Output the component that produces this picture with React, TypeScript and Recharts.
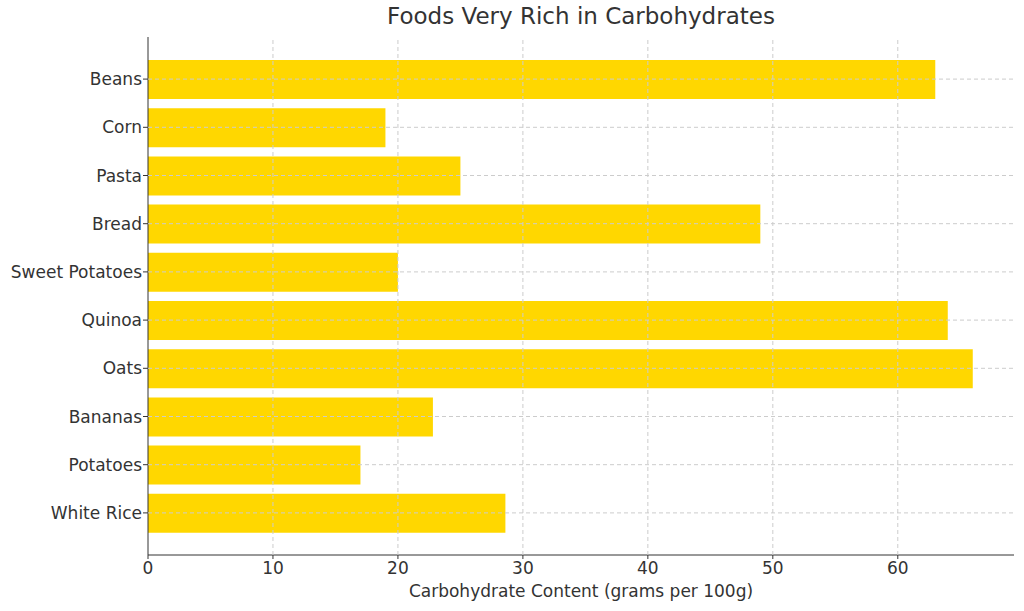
import React from 'react';
import { BarChart, Bar, XAxis, YAxis, ReferenceLine } from 'recharts';

const foods = ['Beans', 'Corn', 'Pasta', 'Bread', 'Sweet Potatoes', 'Quinoa', 'Oats', 'Bananas', 'Potatoes', 'White Rice'];
const carbs = [63, 19, 25, 49, 20, 64, 66, 22.8, 17, 28.6];
const xTicks = [0, 10, 20, 30, 40, 50, 60];

const data = foods.map((name, i) => ({ name, value: carbs[i] }));

const FONT = "'DejaVu Sans', sans-serif";
const TXT = '#333333';
const GRID = '#cccccc';

export default function App() {
  return (
    <div style={{ position: 'absolute', left: 0, top: 0, width: 1024, height: 611, background: '#fff', fontFamily: FONT }}>
      <div style={{ position: 'absolute', left: 148, width: 866, top: 3, textAlign: 'center', fontSize: 23, color: TXT }}>
        Foods Very Rich in Carbohydrates
      </div>
      <BarChart
        width={1024}
        height={611}
        data={data}
        layout="vertical"
        margin={{ top: 37, right: 10, bottom: 0, left: 0 }}
      >
        <XAxis
          type="number"
          domain={[0, 69.3]}
          ticks={xTicks}
          allowDataOverflow
          height={56}
          stroke="#333"
          tick={{ fill: TXT, fontSize: 17, fontFamily: FONT }}
          tickSize={4}
          tickMargin={3}
          label={{ value: 'Carbohydrate Content (grams per 100g)', position: 'insideBottom', offset: 14, fill: TXT, fontSize: 17, fontFamily: FONT }}
        />
        <YAxis
          type="category"
          dataKey="name"
          width={148}
          padding={{ top: 18, bottom: 18 }}
          stroke="#333"
          tick={{ fill: TXT, fontSize: 17, fontFamily: FONT }}
          tickSize={5}
          tickMargin={1}
        />
        <Bar dataKey="value" fill="#FFD700" barSize={39} isAnimationActive={false} />
        {xTicks.filter((t) => t > 0).map((t) => (
          <ReferenceLine key={'x' + t} x={t} stroke={GRID} strokeDasharray="4 3" zIndex={600} />
        ))}
        {foods.map((f) => (
          <ReferenceLine key={'y' + f} y={f} stroke={GRID} strokeDasharray="4 3" zIndex={600} />
        ))}
      </BarChart>
    </div>
  );
}
